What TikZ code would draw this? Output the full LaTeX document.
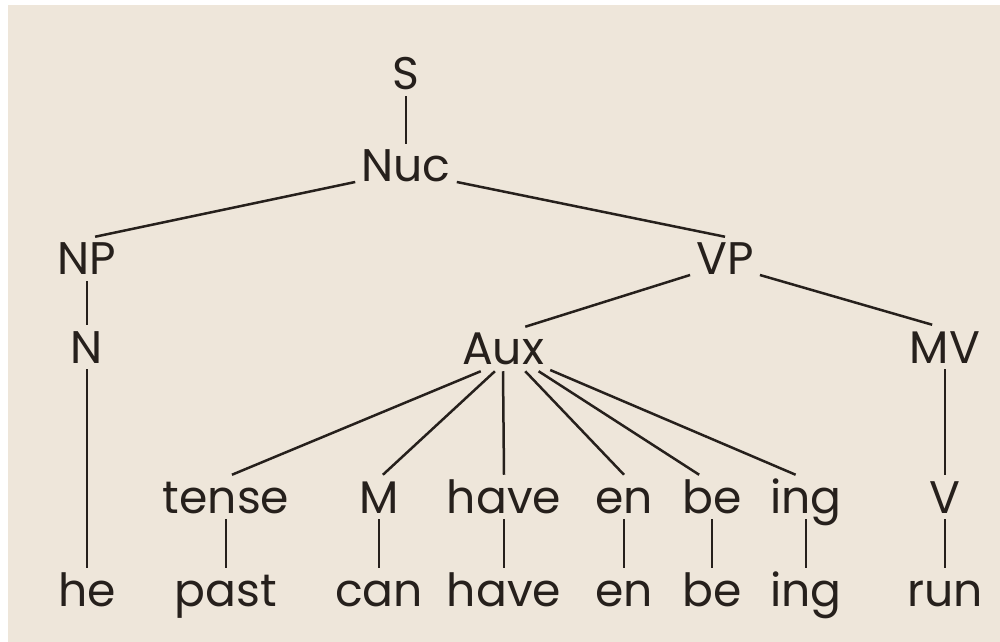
\documentclass[tikz,border=0pt]{standalone}
\usepackage{fontspec}
\setmainfont{Poppins}
\definecolor{paper}{RGB}{238,230,218}
\definecolor{ink}{RGB}{38,32,28}
\tikzset{word/.style={anchor=base,inner sep=1mm,text height=6.4mm,text depth=0pt,font=\fontsize{26}{30}\selectfont,text=ink}}
\begin{document}
\begin{tikzpicture}[x=0.2mm,y=-0.2mm,line width=0.5mm,color=ink]
\fill[white](0,0)rectangle(1000,642);
\fill[paper](8,5)rectangle(1000,642);
\node[word](s)at(406,90){S};
\node[word](nuc)at(406,182){Nuc};
\node[word](np)at(87,275){NP};
\node[word](vp)at(725,275){VP};
\node[word](n)at(87,363){N};
\node[word](aux)at(503,365){Aux};
\node[word](mv)at(945,363){MV};
\node[word](v)at(945,513){V};
\node[word](he)at(87,606){he};
\node[word](run)at(945,606){run};
\draw(s)--(nuc);
\draw(nuc.base west)--(np.70);
\draw(nuc.base east)--(vp.north);
\draw(np)--(n)--(he);
\draw(vp.base west)--(aux.45);
\draw(vp.base east)--(mv.120);
\draw(mv)--(v)--(run);
\foreach \k/\x/\u/\l in {1/226/tense/past,2/379/M/can,3/504/have/have,4/624/en/en,5/712/be/be,6/806/ing/ing}  {
  \node[word](u\k)at(\x,513){\u};
  \node[word](l\k)at(\x,606){\l};
  \draw(u\k)--(l\k);
}
\foreach \k/\a/\b in {1/225/75,2/250/80,3/270/90,4/315/90,5/328/120,6/336/115}
  \draw(aux.\a)--(u\k.\b);
\end{tikzpicture}
\end{document}
